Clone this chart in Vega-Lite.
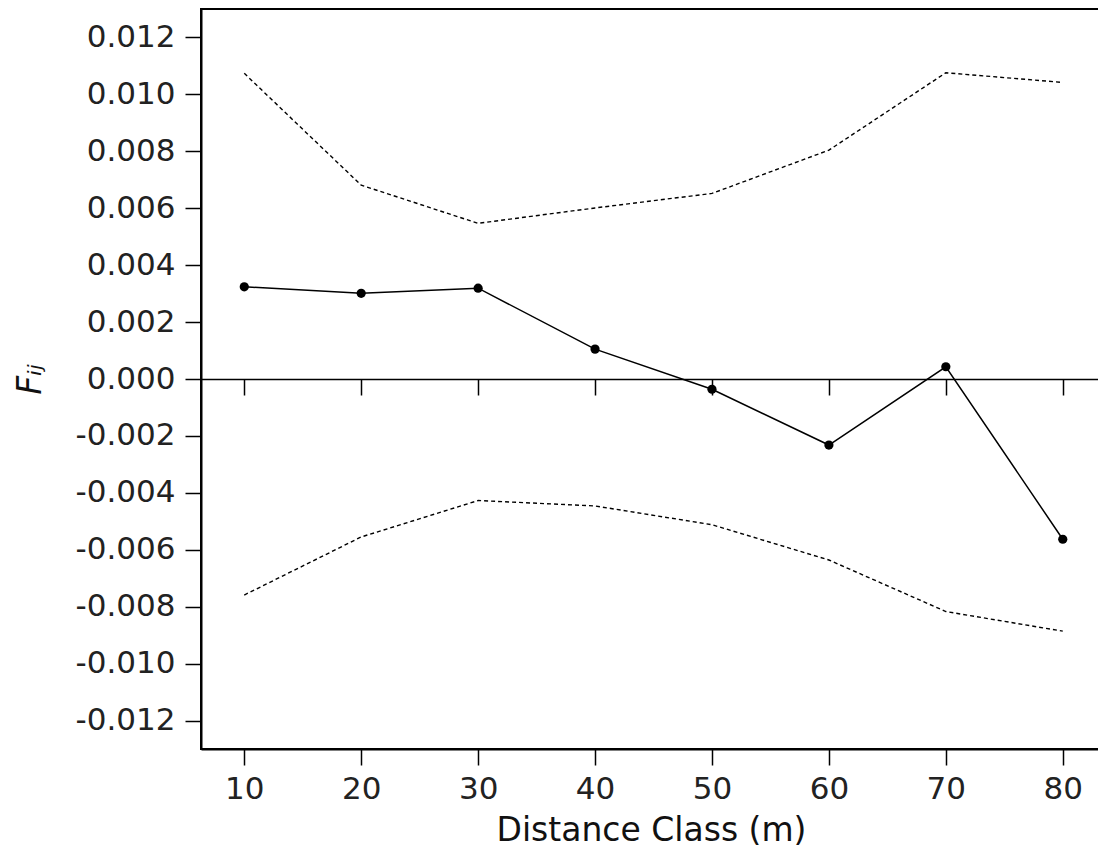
{
  "$schema": "https://vega.github.io/schema/vega-lite/v6.json",
  "width": 900,
  "height": 740,
  "autosize": "none",
  "padding": {"left": 201, "top": 9, "right": 0, "bottom": 115},
  "background": "white",
  "config": {
    "view": {"stroke": "black", "strokeWidth": 2},
    "font": "DejaVu Sans"
  },
  "data": {
    "values": [
      {"d": 10, "Fij": 0.00324, "upper": 0.01074, "lower": -0.00759},
      {"d": 20, "Fij": 0.00301, "upper": 0.00681, "lower": -0.00555},
      {"d": 30, "Fij": 0.00319, "upper": 0.00547, "lower": -0.00427},
      {"d": 40, "Fij": 0.00105, "upper": 0.00601, "lower": -0.00446},
      {"d": 50, "Fij": -0.00036, "upper": 0.00652, "lower": -0.00512},
      {"d": 60, "Fij": -0.00232, "upper": 0.00804, "lower": -0.00636},
      {"d": 70, "Fij": 0.00043, "upper": 0.01076, "lower": -0.00817},
      {"d": 80, "Fij": -0.00563, "upper": 0.01042, "lower": -0.00886}
    ]
  },
  "resolve": {"axis": {"x": "independent"}},
  "layer": [
    {
      "encoding": {
        "x": {
          "field": "d",
          "type": "quantitative",
          "scale": {"domain": [6.3, 83.27], "nice": false, "zero": false},
          "axis": {
            "orient": "bottom",
            "title": "Distance Class (m)",
            "values": [10, 20, 30, 40, 50, 60, 70, 80],
            "grid": false,
            "tickSize": 16,
            "tickWidth": 1.5,
            "tickColor": "black",
            "domainColor": "black",
            "domainWidth": 2,
            "labelFontSize": 31,
            "labelColor": "#222",
            "labelPadding": 9,
            "labelFont": "DejaVu Sans",
            "titleFont": "DejaVu Sans",
            "titleFontSize": 33,
            "titleFontWeight": "normal",
            "titleColor": "#111",
            "titlePadding": 10
          }
        }
      },
      "layer": [
        {
          "mark": {"type": "line", "stroke": "black", "strokeWidth": 1.4, "strokeDash": [4, 3]},
          "encoding": {
            "y": {
              "field": "upper",
              "type": "quantitative",
              "scale": {"domain": [-0.013, 0.013], "nice": false, "zero": false},
              "axis": {
                "title": "Fᵢⱼ",
                "values": [-0.012, -0.01, -0.008, -0.006, -0.004, -0.002, 0, 0.002, 0.004, 0.006, 0.008, 0.01, 0.012],
                "format": ".3f",
                "labelExpr": "replace(format(datum.value, '.3f'), '−', '-')",
                "grid": false,
                "tickSize": 16,
                "tickWidth": 1.5,
                "tickColor": "black",
                "domainColor": "black",
                "domainWidth": 2,
                "labelFontSize": 31,
                "labelColor": "#222",
                "labelPadding": 10,
                "labelFont": "DejaVu Sans",
                "titleFont": "DejaVu Sans",
                "titleFontSize": 33,
                "titleFontStyle": "italic",
                "titleFontWeight": "normal",
                "titleColor": "#111",
                "titlePadding": 28
              }
            }
          }
        },
        {
          "mark": {"type": "line", "stroke": "black", "strokeWidth": 1.4, "strokeDash": [4, 3]},
          "encoding": {"y": {"field": "lower", "type": "quantitative", "title": "Fᵢⱼ"}}
        },
        {
          "mark": {"type": "line", "stroke": "black", "strokeWidth": 1.5},
          "encoding": {"y": {"field": "Fij", "type": "quantitative", "title": "Fᵢⱼ"}}
        },
        {
          "mark": {"type": "point", "filled": true, "fill": "black", "stroke": null, "size": 85, "opacity": 1},
          "encoding": {"y": {"field": "Fij", "type": "quantitative", "title": "Fᵢⱼ"}}
        }
      ]
    },
    {
      "mark": {"type": "point", "opacity": 0},
      "encoding": {
        "x": {
          "field": "d",
          "type": "quantitative",
          "axis": {
            "orient": "bottom",
            "offset": -370,
            "labels": false,
            "title": null,
            "values": [10, 20, 30, 40, 50, 60, 70, 80],
            "grid": false,
            "tickSize": 16,
            "tickWidth": 1.5,
            "tickColor": "black",
            "domain": true,
            "domainColor": "black",
            "domainWidth": 1.5
          }
        },
        "y": {"field": "Fij", "type": "quantitative", "title": "Fᵢⱼ"}
      }
    }
  ]
}
